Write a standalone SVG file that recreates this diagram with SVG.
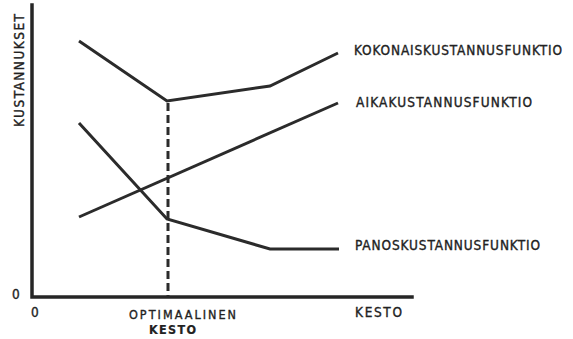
<svg xmlns="http://www.w3.org/2000/svg" width="573" height="339" viewBox="0 0 573 339">
  <style>
    .axis { fill: none; stroke: #262626; stroke-width: 3.5; stroke-linecap: square; }
    .curve { fill: none; stroke: #2b2b2b; stroke-width: 3; stroke-linejoin: miter; stroke-linecap: butt; }
    .guide { fill: none; stroke: #2b2b2b; stroke-width: 3; stroke-dasharray: 8 4; }
    .lbl { font-family: "DejaVu Sans Condensed", "Liberation Sans", sans-serif; font-size: 13.5px; fill: #222; stroke: #222; stroke-width: 0.35; }
    .sm { font-size: 12.5px; }
    .bold { font-weight: bold; stroke-width: 0.2; }
  </style>
  <rect width="573" height="339" fill="#fff"/>

  <!-- axes -->
  <g id="axes">
    <path class="axis" d="M32 5 V297 H412"/>
    <text class="lbl" x="12" y="299">0</text>
    <text class="lbl" x="31" y="317">0</text>
    <text class="lbl" x="0" y="0" transform="translate(24 127) rotate(-90)" textLength="113" lengthAdjust="spacing">KUSTANNUKSET</text>
    <text class="lbl" x="355" y="317" textLength="47" lengthAdjust="spacing">KESTO</text>
  </g>

  <!-- cost functions -->
  <g id="connectors">
    <polyline id="total" class="curve" points="79,41 167,101 270,86 338,53"/>
    <polyline id="time" class="curve" points="79,217 338,103"/>
    <polyline id="input" class="curve" points="79,123 167,219 270,249 339,249"/>
    <line id="optimum" class="guide" x1="168" y1="103" x2="168" y2="296"/>
  </g>

  <g id="label-total">
    <text class="lbl" x="354" y="55" textLength="208" lengthAdjust="spacing">KOKONAISKUSTANNUSFUNKTIO</text>
  </g>
  <g id="label-time">
    <text class="lbl" x="356" y="107" textLength="176" lengthAdjust="spacing">AIKAKUSTANNUSFUNKTIO</text>
  </g>
  <g id="label-input">
    <text class="lbl" x="355" y="250" textLength="185" lengthAdjust="spacing">PANOSKUSTANNUSFUNKTIO</text>
  </g>
  <g id="label-optimum">
    <text class="lbl sm" x="129" y="319" textLength="107" lengthAdjust="spacing">OPTIMAALINEN</text>
    <text class="lbl sm bold" x="149" y="334" textLength="47" lengthAdjust="spacing">KESTO</text>
  </g>
</svg>
